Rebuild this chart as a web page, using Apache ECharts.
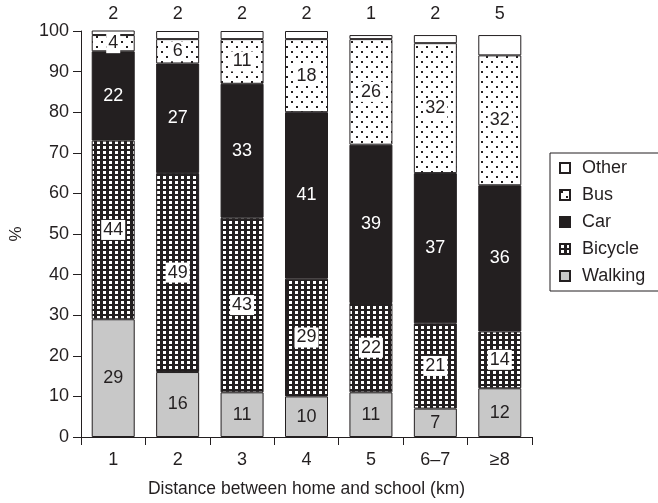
<!DOCTYPE html>
<html>
<head>
<meta charset="utf-8">
<script src="https://cdn.jsdelivr.net/npm/echarts@6/dist/echarts.min.js"></script>
<style>
  html, body { margin: 0; padding: 0; background: #fff; }
  #chart { width: 658px; height: 503px; }
</style>
</head>
<body>
<div id="chart"></div>
<script>
// Travel mode to school by distance band (percent of pupils)
const categories = ['1', '2', '3', '4', '5', '6\u20137', '\u22658'];
const walking = [29, 16, 11, 10, 11, 7, 12];
const bicycle = [44, 49, 43, 29, 22, 21, 14];
const car     = [22, 27, 33, 41, 39, 37, 36];
const bus     = [4, 6, 11, 18, 26, 32, 32];
const other   = [2, 2, 2, 2, 1, 2, 5];
const yTicks  = { min: 0, max: 100, step: 10 };

const ink = '#231f20';
const font = '"Liberation Sans", Arial, Helvetica, sans-serif';
const fs = 18;

// Tile patterns for the hatched segments
function makeTile(w, h, bg, fg, rects) {
  const c = document.createElement('canvas');
  c.width = w; c.height = h;
  const g = c.getContext('2d');
  g.fillStyle = bg; g.fillRect(0, 0, w, h);
  g.fillStyle = fg;
  rects.forEach(r => g.fillRect(r[0], r[1], r[2], r[3]));
  return { image: c, repeat: 'repeat' };
}
const bicyclePattern = makeTile(6, 5, ink, '#ffffff', [[1, 1, 3, 3]]);
const busPattern = makeTile(10, 10, '#ffffff', ink, [[1, 1, 2, 2], [6, 6, 2, 2]]);

const boxedLabel = {
  show: true, position: 'inside', color: ink, fontSize: fs, fontFamily: font,
  backgroundColor: '#ffffff', padding: [2, 2, 0, 2]
};

function seg(name, data, color, label) {
  return {
    name, type: 'bar', stack: 'total', data, barWidth: 43,
    itemStyle: { color, borderColor: ink, borderWidth: 1 },
    label, emphasis: { disabled: true }, animation: false
  };
}

const chart = echarts.init(document.getElementById('chart'), null, { renderer: 'canvas' });
chart.setOption({
  backgroundColor: '#ffffff',
  animation: false,
  textStyle: { fontFamily: font, color: ink },
  grid: { left: 81, right: 126, top: 31, bottom: 66, containLabel: false },
  legend: {
    data: ['Other', 'Bus', 'Car', 'Bicycle', 'Walking'],
    orient: 'vertical', left: 550, top: 153,
    padding: [6, 20, 6, 9], itemGap: 9, itemWidth: 10, itemHeight: 10,
    icon: 'rect',
    borderColor: ink, borderWidth: 1,
    textStyle: { fontSize: fs, color: ink, fontFamily: font, padding: [0, 0, 0, 7] },
    selectedMode: false
  },
  xAxis: [
    {
      type: 'category', data: categories, position: 'bottom',
      name: 'Distance between home and school (km)', nameLocation: 'middle', nameGap: 43,
      nameTextStyle: { fontSize: 17.5, color: ink, fontFamily: font },
      axisLine: { lineStyle: { color: ink, width: 1 } },
      axisTick: { show: true, length: 8, lineStyle: { color: ink } },
      axisLabel: { fontSize: fs, color: ink, margin: 14, fontFamily: font }
    },
    {
      // totals for "Other" printed above each bar
      type: 'category', data: categories, position: 'top',
      axisLine: { show: false }, axisTick: { show: false },
      axisLabel: {
        fontSize: fs, color: ink, margin: 8, fontFamily: font,
        formatter: (v, i) => String(other[i])
      }
    }
  ],
  yAxis: {
    type: 'value', min: yTicks.min, max: yTicks.max, interval: yTicks.step,
    name: '%', nameLocation: 'middle', nameGap: 56, nameRotate: 90,
    nameTextStyle: { fontSize: 17, color: ink, fontFamily: font },
    axisLine: { show: true, lineStyle: { color: ink, width: 1 } },
    axisTick: { show: true, length: 8, lineStyle: { color: ink } },
    axisLabel: { fontSize: fs, color: ink, margin: 12, fontFamily: font },
    splitLine: { show: false }
  },
  series: [
    seg('Walking', walking, '#c8c8c8', { show: true, position: 'inside', color: ink, fontSize: fs, fontFamily: font }),
    seg('Bicycle', bicycle, bicyclePattern, boxedLabel),
    seg('Car', car, ink, { show: true, position: 'inside', color: '#ffffff', fontSize: fs, fontFamily: font }),
    seg('Bus', bus, busPattern, boxedLabel),
    seg('Other', other, '#ffffff', { show: false })
  ]
});
</script>
</body>
</html>
